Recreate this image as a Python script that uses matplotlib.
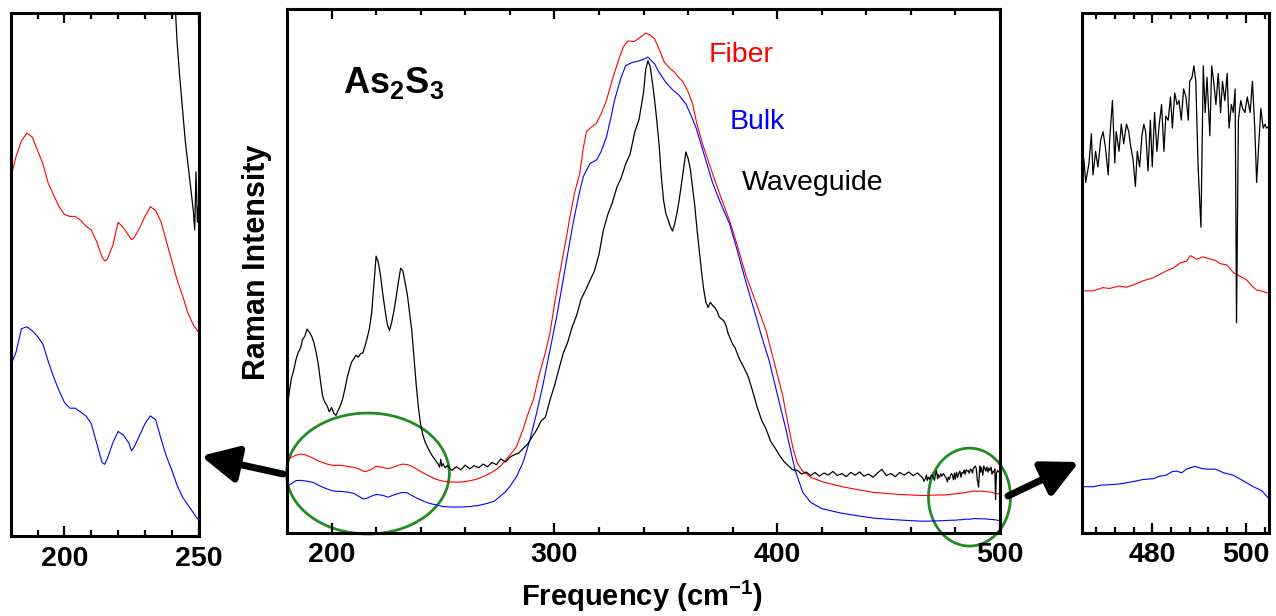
import numpy as np
import matplotlib
matplotlib.use('Agg')
import matplotlib.pyplot as plt
from matplotlib.patches import Ellipse

plt.rcParams['font.family'] = ['Liberation Sans', 'DejaVu Sans']
plt.rcParams['mathtext.fontset'] = 'custom'
plt.rcParams['mathtext.rm'] = 'Liberation Sans'
plt.rcParams['mathtext.bf'] = 'Liberation Sans:bold'
plt.rcParams['mathtext.it'] = 'Liberation Sans:italic'

series_names = ["Fiber", "Bulk", "Waveguide"]
series_colors = ["#ff0000", "#0000ff", "#000000"]

# ---------------- Fiber (red) ----------------
fiber_x = [180, 182, 184, 186, 188, 190, 192, 194, 196, 198, 200, 202, 204, 206, 208, 210, 212, 214, 215, 216,
           218, 220, 222, 224, 225, 226, 228, 230, 232, 234, 236, 238, 240, 242, 244, 246, 248, 250, 253, 256,
           259, 262, 265, 268, 271, 274, 276, 278, 280, 283, 286, 288, 290.5, 293, 296, 298, 300, 302.4, 305, 307,
           309, 311.4, 313, 314.4, 316.5, 318.9, 321, 323.4, 326, 329, 331, 333, 336, 338.5, 341, 343, 345, 347,
           349.4, 352, 354, 356, 357.6, 360, 362, 364, 366.6, 370, 374, 378.6, 382, 386, 390, 395, 399, 402.5,
           405, 407, 409, 411.5, 415, 420.5, 430, 443, 455, 465, 467.4, 469.5, 470.9, 473, 474.5, 476.5, 478, 480,
           481.6, 483, 484.5, 486, 487.3, 488.2, 489.5, 490.8, 492.3, 493.5, 494.5, 495.9, 497.3, 499, 500.2,
           501.5, 502.3, 503.8, 505]
fiber_y = [13.85, 14.4, 14.8, 15.0, 14.9, 14.55, 14.2, 13.7, 13.4, 13.1, 12.9, 12.85, 12.85, 12.75, 12.6, 12.5,
           12.2, 11.8, 11.7, 11.75, 12.1, 12.7, 12.55, 12.35, 12.25, 12.3, 12.55, 12.85, 13.1, 13.0, 12.7, 12.2,
           11.7, 11.2, 10.8, 10.35, 10.05, 9.85, 9.7, 9.65, 9.7, 9.9, 10.2, 10.7, 11.3, 12.1, 12.8, 13.8, 14.8,
           16.4, 19.8, 22.5, 25.3, 29.8, 34.5, 38.1, 43.5, 49.5, 55.5, 60.3, 64.8, 68.6, 73.5, 76.6, 77.4, 78.2,
           80.0, 82.6, 86.5, 90.5, 92.8, 93.9, 93.8, 94.6, 95.4, 95.0, 94.3, 92.3, 89.8, 88.6, 87.9, 86.8, 86.2,
           84.2, 81.9, 78.0, 74.1, 69.8, 64.9, 59.6, 55.0, 49.1, 44.5, 38.6, 32.0, 26.1, 20.5, 16.3, 13.3, 11.7,
           10.6, 9.7, 8.7, 7.7, 7.3, 7.10, 7.10, 7.18, 7.16, 7.22, 7.19, 7.27, 7.35, 7.42, 7.51, 7.60, 7.67, 7.80,
           7.84, 7.98, 7.89, 7.95, 7.90, 7.86, 7.78, 7.75, 7.56, 7.45, 7.37, 7.20, 7.12, 7.08, 7.03]

# ---------------- Bulk (blue) ----------------
bulk_x = [180, 182, 184, 186, 188, 190, 192, 194, 196, 198, 200, 202, 204, 206, 208, 210, 212, 214, 215, 216,
          218, 220, 222, 224, 225, 226, 228, 230, 232, 234, 236, 238, 240, 242, 244, 246, 248, 250, 254, 258,
          262, 266, 270, 273, 275.5, 278, 280, 283, 286, 289, 292, 295, 298, 301, 303, 305.5, 308.4, 311, 313,
          316, 319, 321, 323.4, 325.5, 327, 330, 332, 335, 338, 340, 342, 345, 347, 350, 353, 356, 359, 361,
          363.6, 367, 371, 375, 378.6, 382, 386, 390, 393, 396.5, 400, 404, 408, 411.5, 415, 420, 428, 435, 443,
          452, 460, 465, 467.4, 469, 470.9, 473, 474.5, 476, 478, 480.2, 481.5, 483, 484.3, 485.2, 486.3, 487.3,
          488.3, 489.1, 490.4, 491.6, 493.4, 494.3, 495.2, 497.3, 499.4, 501.6, 503.4, 505]
bulk_y = [9.0, 9.35, 9.95, 10.0, 9.9, 9.75, 9.55, 9.1, 8.7, 8.35, 8.05, 7.9, 7.9, 7.8, 7.7, 7.5, 7.0, 6.5, 6.45,
          6.6, 7.0, 7.3, 7.2, 7.0, 6.8, 6.9, 7.2, 7.5, 7.7, 7.6, 7.1, 6.65, 6.3, 5.9, 5.6, 5.4, 5.2, 5.0, 4.9,
          4.9, 5.0, 5.2, 5.6, 6.0, 6.9, 7.8, 8.8, 10.7, 13.5, 17.7, 22.8, 28.5, 34.8, 41.2, 46.0, 52.1, 59.1,
          64.5, 68.0, 70.5, 71.2, 72.8, 75.6, 79.5, 82.6, 87.0, 89.2, 89.8, 90.1, 90.4, 90.8, 89.5, 87.9, 86.0,
          84.6, 83.5, 81.9, 80.0, 77.3, 72.5, 66.8, 62.5, 59.0, 54.0, 47.8, 42.0, 37.5, 32.7, 26.5, 19.6, 12.0,
          7.7, 5.8, 4.6, 3.8, 3.3, 2.8, 2.5, 2.3, 2.20, 2.20, 2.24, 2.25, 2.27, 2.30, 2.33, 2.38, 2.40, 2.46,
          2.49, 2.58, 2.59, 2.55, 2.64, 2.68, 2.71, 2.66, 2.64, 2.64, 2.60, 2.55, 2.49, 2.35, 2.20, 2.10, 1.89]

# ---------------- Waveguide (black) ----------------
wg_x = [180, 181, 182, 183, 184, 185, 186, 187, 188, 189, 190, 191, 192, 193, 194, 195, 196, 197, 198, 199, 200,
        201, 202, 203, 204, 205, 206, 207, 208, 209, 210, 211, 212, 213, 214, 215, 216, 217, 218, 219, 220, 221,
        222, 223, 224, 225, 226, 227, 228, 229, 230, 231, 232, 233, 234, 235, 236, 237, 238, 239, 240, 241, 242,
        243, 244, 245, 246, 247, 248, 248.5, 249, 249.5, 250, 251, 252, 254, 256, 258, 260, 262, 264, 266, 268,
        270, 272, 274, 276, 278, 280, 282, 284, 286, 288, 290, 292, 294, 296, 298, 300, 302, 304, 306, 308, 310,
        312, 314, 316, 318, 320, 322, 324, 326, 328, 330, 332, 334, 336, 338, 340, 341, 342, 343, 344, 345, 346,
        347, 348, 349, 350, 351, 352, 353, 354, 355, 356, 357, 358, 359, 360, 361, 362, 363, 364, 365, 366, 367,
        368, 369, 370, 371, 372, 373, 374, 375, 376, 377, 378, 379, 380, 381, 383, 385, 387, 389, 391, 393, 395,
        397, 399, 401, 403, 405, 407, 409, 411, 413, 415, 417, 419, 421, 423, 425, 427, 429, 431, 433, 435, 437,
        439, 441, 443, 445, 447, 449, 451, 453, 455, 457, 459, 461, 463,
        465.4, 465.8, 466.5, 467.0, 467.35, 467.9, 468.4, 469.0, 469.5, 470.0, 470.6, 470.9, 471.5, 472.0, 472.3,
        472.9, 473.4, 473.9, 474.5, 475.0, 475.3, 475.9, 476.4, 476.8, 477.3, 477.8, 478.2, 478.6, 479.1, 479.6,
        480.0, 480.5, 481.0, 481.5, 482.0, 482.5, 482.9, 483.4, 483.9, 484.3, 484.8, 485.3, 485.7, 486.2, 486.7,
        487.2, 487.7, 488.0, 488.5, 488.9, 489.3, 489.8, 490.4, 490.9, 491.3, 491.7, 492.3, 492.7, 493.2, 493.6,
        494.1, 494.6, 495.0, 495.5, 496.0, 496.4, 496.9, 497.3, 497.7, 498.0, 498.4, 498.9, 499.3, 499.8, 500.3,
        500.9, 501.4, 501.9, 502.3, 502.8, 503.2, 503.7, 504.1, 504.4, 505.0]
wg_y = [23.4, 26.8, 29.5, 31.0, 33.0, 34.4, 35.2, 36.9, 37.5, 38.9, 38.3, 37.6, 36.4, 34.6, 32.3, 29.0, 26.0, 24.9,
        24.2, 23.1, 23.9, 22.8, 22.4, 23.4, 24.3, 25.6, 27.5, 29.6, 31.2, 32.6, 33.2, 33.9, 33.5, 34.2, 34.3, 35.6,
        37.2, 39.0, 42.0, 47.5, 52.8, 51.6, 49.0, 45.6, 42.5, 39.8, 38.6, 40.2, 42.4, 45.0, 47.9, 50.5, 50.0, 47.8,
        45.5, 42.0, 38.6, 33.5, 28.2, 23.8, 20.6, 18.6, 17.3, 16.4, 15.6, 14.8, 14.2, 13.6, 13.0, 12.5, 14.0, 12.7,
        13.2, 12.4, 12.8, 11.9, 12.6, 12.0, 12.9, 12.2, 12.8, 12.4, 13.1, 12.6, 13.4, 13.0, 14.1, 13.5, 14.4, 14.9,
        15.2, 16.1, 16.9, 18.3, 19.6, 21.3, 22.1, 25.3, 28.0, 31.2, 34.3, 36.4, 39.3, 41.5, 44.6, 46.3, 48.2, 50.0,
        53.1, 57.8, 60.8, 63.0, 65.9, 67.8, 70.4, 72.3, 76.4, 78.9, 84.0, 88.5, 90.1, 89.0, 86.0, 82.6, 78.5, 74.1,
        68.0, 63.5, 61.0, 59.8, 58.5, 57.6, 59.0, 61.0, 63.5, 66.5, 69.5, 72.7, 71.5, 69.5, 66.0, 62.5, 58.0, 54.0,
        50.0, 46.5, 44.0, 43.0, 44.0, 43.4, 43.0, 42.3, 41.2, 40.8, 40.5, 39.6, 38.0, 37.0, 36.0, 35.4, 33.2, 31.6,
        29.8, 27.0, 24.0, 21.5, 19.8, 17.5, 16.2, 14.8, 13.6, 12.8, 12.0, 11.9, 11.2, 11.6, 10.9, 11.5, 10.8, 11.4,
        11.0, 11.7, 10.9, 11.3, 10.7, 11.5, 11.0, 11.6, 10.8, 11.2, 10.6, 11.4, 12.1, 10.9, 11.3, 10.7, 11.5, 11.0,
        11.6, 10.9, 11.4,
        10.39, 9.81, 10.30, 11.03, 10.0, 10.59, 10.2, 10.88, 11.08, 10.69, 10.0, 10.88, 11.86, 10.30, 11.08, 10.59,
        11.27, 10.78, 11.27, 11.08, 10.78, 10.39, 9.71, 10.59, 10.2, 10.98, 11.27, 11.08, 10.1, 11.37, 10.2, 11.56,
        10.59, 11.27, 11.76, 10.59, 11.47, 11.37, 11.95, 11.17, 12.05, 11.76, 11.86, 11.37, 12.15, 11.95, 11.37,
        12.34, 12.44, 12.73, 12.34, 10.2, 8.69, 12.73, 11.56, 12.44, 10.98, 12.73, 12.25, 11.76, 12.54, 11.56,
        12.34, 11.86, 12.54, 11.17, 11.76, 11.56, 12.15, 6.30, 11.37, 11.86, 11.66, 11.56, 11.95, 11.56, 12.34,
        11.17, 9.81, 10.88, 11.66, 11.17, 11.27, 11.17, 11.22]

label_pos = {"Fiber": (741, 55), "Bulk": (757, 122), "Waveguide": (813, 183)}

W, H = 1276, 616
fig = plt.figure(figsize=(W / 100, H / 100), dpi=100)


def fx(px):
    return px / W


def fy(py):
    return 1 - py / H


ax_l = fig.add_axes([fx(10.7), fy(536), (198.7 - 10.7) / W, (536 - 13) / H])
ax_m = fig.add_axes([fx(287), fy(532.7), (1000 - 287) / W, (532.7 - 9) / H])
ax_r = fig.add_axes([fx(1082), fy(532.7), (1269.3 - 1082) / W, (532.7 - 13) / H])

data = [(fiber_x, fiber_y), (bulk_x, bulk_y), (wg_x, wg_y)]
for ax in (ax_l, ax_m, ax_r):
    for (xs, ys), c in zip(data, series_colors):
        lw = 0.9 if c == "#000000" else 0.8
        ax.plot(xs, ys, color=c, lw=lw)
    ax.set_yticks([])
    for s in ax.spines.values():
        s.set_linewidth(2.2)
    ax.tick_params(axis='x', which='both', direction='in', top=True, bottom=True, width=1.6,
                   labelsize=20.5, pad=7)
    ax.tick_params(axis='x', which='major', length=7.5)
    ax.tick_params(axis='x', which='minor', length=4.5)
    for t in ax.get_xticklabels():
        t.set_fontweight('bold')

ax_m.set_xlim(180, 500)
ax_m.set_ylim(0, 100)
ax_m.set_xticks([200, 300, 400, 500])
ax_m.set_xticks([220, 240, 260, 280, 320, 340, 360, 380, 420, 440, 460, 480], minor=True)

ax_l.set_xlim(180, 250)
ax_l.set_ylim(4.6, 18.1)
ax_l.set_xticks([200, 250])
ax_l.set_xticks([190, 210, 220, 230, 240], minor=True)

ax_r.set_xlim(465, 505)
ax_r.set_ylim(1.05, 14.05)
ax_r.set_xticks([480, 500])
ax_r.set_xticks([468, 472, 476, 484, 488, 492, 496, 504], minor=True)

for ax in (ax_l, ax_m, ax_r):
    for t in ax.get_xticklabels():
        t.set_fontweight('bold')

# ellipses highlighting zoomed regions (data coords of main axes)
ax_m.add_patch(Ellipse((216.3, 11.3), 73.1, 23.1, fill=False, edgecolor='#228B22', lw=2.0, clip_on=False))
ax_m.add_patch(Ellipse((486.3, 6.8), 36.8, 18.7, fill=False, edgecolor='#228B22', lw=2.0, clip_on=False))

# arrows
arrow_kw = dict(arrowstyle='-|>,head_length=1.1,head_width=0.55', lw=5, color='black',
                mutation_scale=20, shrinkA=0, shrinkB=0)
fig.patches.append(matplotlib.patches.FancyArrowPatch((fx(283), fy(474)), (fx(201), fy(456)),
                                                      transform=fig.transFigure, **arrow_kw))
fig.patches.append(matplotlib.patches.FancyArrowPatch((fx(1008), fy(496)), (fx(1079), fy(462)),
                                                      transform=fig.transFigure, **arrow_kw))

# texts
fig.text(fx(343), fy(93), r'$\mathbf{As_2S_3}$', fontsize=26, ha='left', va='baseline')
for name, c in zip(series_names, series_colors):
    px, py = label_pos[name]
    fig.text(fx(px), fy(py), name, color=c, fontsize=20.5, ha='center', va='center')

fig.text(fx(257), fy(262), 'Raman Intensity', rotation=90, fontsize=22, fontweight='bold',
         ha='center', va='center')
fig.text(fx(642), fy(596), r'Frequency (cm$^{\mathbf{-1}}$)', fontsize=21, fontweight='bold',
         ha='center', va='center')

fig.savefig('out.png', dpi=100)
